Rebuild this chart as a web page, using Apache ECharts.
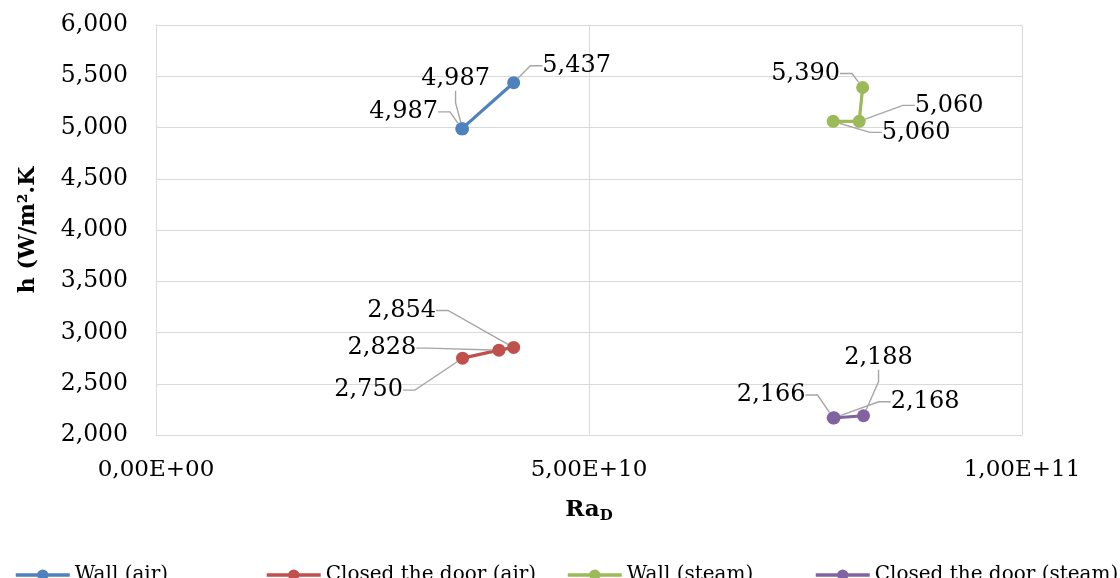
<!DOCTYPE html>
<html>
<head>
<meta charset="utf-8">
<script src="https://cdn.jsdelivr.net/npm/echarts@6/dist/echarts.min.js"></script>
<style>
  html, body { margin: 0; padding: 0; background: #ffffff; }
  #chart { width: 1120px; height: 578px; }
</style>
</head>
<body>
<div id="chart"></div>
<script>
// Heat transfer coefficient h against Rayleigh number Ra_D
const seriesNames = ['Wall (air)', 'Closed the door (air)', 'Wall (steam)', 'Closed the door (steam)'];

const wallAirRa = [3.53e10, 3.54e10, 4.13e10];
const wallAirH = [4987, 4987, 5437];

const doorAirRa = [3.54e10, 3.96e10, 4.13e10];
const doorAirH = [2750, 2828, 2854];

const wallSteamRa = [7.82e10, 8.12e10, 8.16e10];
const wallSteamH = [5060, 5060, 5390];

const doorSteamRa = [7.82e10, 7.83e10, 8.17e10];
const doorSteamH = [2166, 2168, 2188];

const yTicks = [2000, 2500, 3000, 3500, 4000, 4500, 5000, 5500, 6000];
const xTicks = [0, 5e10, 1e11];

// label placement (pixel offsets of each value label from its point)
const labelShift = [
  [[-58, -17], [-7, -50], [63, -17]],
  [[-94, 32], [-117, -2], [-112, -37]],
  [[83, 11], [90, -16], [-57, -14]],
  [[-62, -23], [91, -16], [15, -58]]
];

const colors = ['#4F81BD', '#C0504D', '#9BBB59', '#8064A2'];
const FONT = 'DejaVu Serif';

function pairs(xs, ys) {
  return xs.map((x, i) => [x, ys[i]]);
}
const seriesData = [
  pairs(wallAirRa, wallAirH),
  pairs(doorAirRa, doorAirH),
  pairs(wallSteamRa, wallSteamH),
  pairs(doorSteamRa, doorSteamH)
];

function sciLabel(v) {
  if (v === 0) return '0,00E+00';
  const e = Math.floor(Math.log10(Math.abs(v)) + 1e-9);
  const m = v / Math.pow(10, e);
  return m.toFixed(2).replace('.', ',') + 'E' + (e < 0 ? '-' : '+') + String(Math.abs(e)).padStart(2, '0');
}
function thousands(v) {
  return Number(v).toLocaleString('en-US');
}

const chart = echarts.init(document.getElementById('chart'), null, { renderer: 'canvas' });

const series = seriesNames.map((name, s) => ({
  name: name,
  type: 'line',
  data: seriesData[s],
  color: colors[s],
  symbol: 'circle',
  symbolSize: 13,
  showSymbol: true,
  lineStyle: { width: 3.2, color: colors[s] },
  itemStyle: { color: colors[s] },
  label: {
    show: true,
    position: 'inside',
    formatter: p => thousands(p.value[1]),
    fontFamily: FONT,
    fontSize: 24,
    color: '#000000',
    padding: [2, 7]
  },
  labelLine: {
    show: true,
    length2: 12,
    lineStyle: { color: '#a6a6a6', width: 1.4 }
  },
  labelLayout: function (params) {
    const d = labelShift[s][params.dataIndex];
    return { dx: d[0], dy: d[1], hideOverlap: false };
  },
  emphasis: { disabled: true },
  z: 3
}));

const legendLeft = [9, 260, 561, 809];
const legends = seriesNames.map((name, i) => ({
  data: [name],
  left: legendLeft[i],
  top: 560,
  itemWidth: 54,
  itemHeight: 14,
  lineStyle: { width: 3.5 },
  textStyle: { fontFamily: FONT, fontSize: 20, color: '#000000' },
  selectedMode: false
}));

chart.setOption({
  animation: false,
  backgroundColor: '#ffffff',
  grid: { left: 156, right: 98, top: 25, bottom: 143, containLabel: false },
  legend: legends,
  xAxis: {
    type: 'value',
    min: xTicks[0],
    max: xTicks[xTicks.length - 1],
    interval: xTicks[1] - xTicks[0],
    name: '{a|Ra}{b|D}',
    nameLocation: 'middle',
    nameGap: 62,
    nameTextStyle: {
      rich: {
        a: { fontFamily: FONT, fontSize: 23, fontWeight: 'bold', color: '#000000' },
        b: { fontFamily: FONT, fontSize: 15, fontWeight: 'bold', color: '#000000', padding: [12, 0, 0, 0] }
      }
    },
    axisLine: { show: true, lineStyle: { color: '#d9d9d9', width: 1 } },
    axisTick: { show: false },
    splitLine: { show: true, lineStyle: { color: '#d9d9d9', width: 1 } },
    axisLabel: {
      formatter: sciLabel,
      fontFamily: FONT,
      fontSize: 23,
      color: '#000000',
      margin: 24,
      showMinLabel: true,
      showMaxLabel: true
    }
  },
  yAxis: {
    type: 'value',
    min: yTicks[0],
    max: yTicks[yTicks.length - 1],
    interval: yTicks[1] - yTicks[0],
    name: 'h (W/m².K',
    nameLocation: 'middle',
    nameRotate: 90,
    nameGap: 117,
    nameTextStyle: { fontFamily: FONT, fontSize: 22, fontWeight: 'bold', color: '#000000' },
    axisLine: { show: true, lineStyle: { color: '#d9d9d9', width: 1 } },
    axisTick: { show: false },
    splitLine: { show: true, lineStyle: { color: '#d9d9d9', width: 1 } },
    axisLabel: {
      formatter: thousands,
      fontFamily: FONT,
      fontSize: 23.5,
      color: '#000000',
      margin: 28
    }
  },
  series: series
});
</script>
</body>
</html>
